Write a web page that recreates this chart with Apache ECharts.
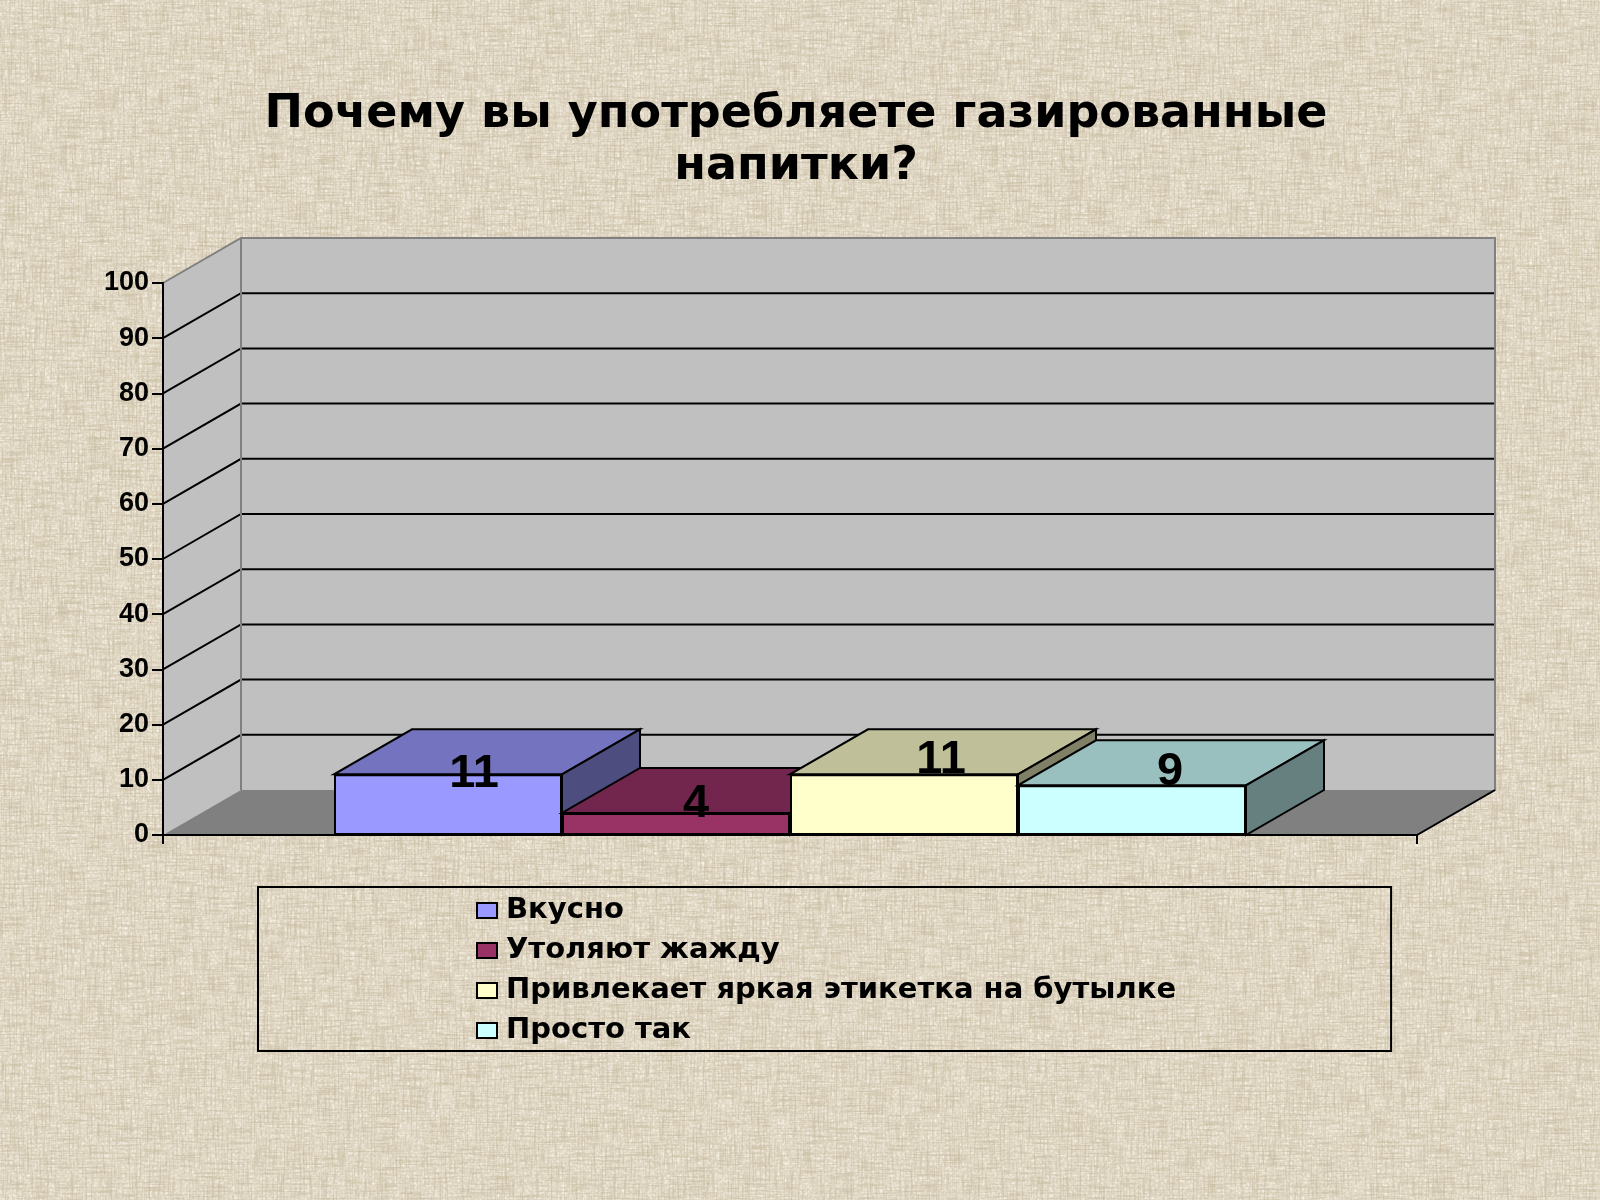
<!DOCTYPE html>
<html><head><meta charset="utf-8">
<script src="https://cdn.jsdelivr.net/npm/echarts@6/dist/echarts.min.js"></script>
<style>
html,body{margin:0;padding:0;width:1600px;height:1200px;overflow:hidden;background:#dcd4c1}
#tex{position:absolute;left:0;top:0;width:1600px;height:1200px}
#c{position:absolute;left:0;top:0;width:1600px;height:1200px}
</style></head><body>
<svg id="tex" xmlns="http://www.w3.org/2000/svg" width="1600" height="1200">
<defs>
<filter id="h" x="0" y="0" width="100%" height="100%"><feTurbulence type="fractalNoise" baseFrequency="0.035 0.55" numOctaves="2" seed="4"/><feColorMatrix values="0 0 0 0 .54 0 0 0 0 .46 0 0 0 0 .32 2.8 0 0 0 -1.2"/></filter>
<filter id="v" x="0" y="0" width="100%" height="100%"><feTurbulence type="fractalNoise" baseFrequency="0.55 0.035" numOctaves="2" seed="9"/><feColorMatrix values="0 0 0 0 .54 0 0 0 0 .46 0 0 0 0 .32 2.8 0 0 0 -1.2"/></filter>
<filter id="w" x="0" y="0" width="100%" height="100%"><feTurbulence type="fractalNoise" baseFrequency="0.4 0.4" numOctaves="1" seed="14"/><feColorMatrix values="0 0 0 0 .97 0 0 0 0 .95 0 0 0 0 .88 2.4 0 0 0 -1.05"/></filter>
</defs>
<rect width="1600" height="1200" fill="#e2d9c6"/>
<rect width="1600" height="1200" filter="url(#w)"/>
<rect width="1600" height="1200" filter="url(#h)" opacity=".52"/>
<rect width="1600" height="1200" filter="url(#v)" opacity=".52"/>
</svg>
<div id="c"></div>
<script>
// data
const titleLines = ['Почему вы употребляете газированные', 'напитки?'];
const categories = [''];
const seriesNames = ['Вкусно', 'Утоляют жажду', 'Привлекает яркая этикетка на бутылке', 'Просто так'];
const seriesValues = [11, 4, 11, 9];
const axisTicks = [0, 10, 20, 30, 40, 50, 60, 70, 80, 90, 100];

// style
const seriesColors = ['#9999FF', '#993366', '#FFFFCC', '#CCFFFF'];
const topColors = ['#7373BF', '#73264D', '#BFBF99', '#99BFBF'];
const sideColors = ['#4D4D80', '#4D1A33', '#808066', '#668080'];
const labelOffsets = [[26, 23], [20, 15], [37, 9], [38, 10]];
const DX = 78, DY = -45;            // depth of the oblique projection, px
const GAP_BARS = 1.5;               // category gap, in bar widths

const chart = echarts.init(document.getElementById('c'));

function wallsItem(params, api) {
  if (params.dataIndex !== 0) return;
  const b = api.coord([0, 0]), t = api.coord([0, 100]);
  const w = api.size([1, 0])[0];
  const L = b[0] - w / 2, R = b[0] + w / 2, B = b[1], T = t[1];
  const ch = [];
  const black = { stroke: '#000', lineWidth: 2 };
  const edge = { stroke: '#808080', lineWidth: 2 };
  ch.push({ type: 'polygon', shape: { points: [[L, B], [L + DX, B + DY], [L + DX, T + DY], [L, T]] }, style: { fill: '#C0C0C0' } });
  ch.push({ type: 'rect', shape: { x: L + DX, y: T + DY, width: R - L, height: B - T }, style: { fill: '#C0C0C0' } });
  ch.push({ type: 'polygon', shape: { points: [[L, B], [R, B], [R + DX, B + DY], [L + DX, B + DY]] }, style: { fill: '#808080' } });
  axisTicks.filter(v => v > 0 && v < 100).forEach(v => {
    const y = api.coord([0, v])[1];
    ch.push({ type: 'polyline', shape: { points: [[L, y], [L + DX, y + DY], [R + DX, y + DY]] }, style: Object.assign({ fill: null }, black) });
  });
  ch.push({ type: 'polyline', shape: { points: [[L, T], [L + DX, T + DY], [R + DX, T + DY], [R + DX, B + DY], [R, B]] }, style: Object.assign({ fill: null }, edge) });
  ch.push({ type: 'line', shape: { x1: L + DX, y1: T + DY, x2: L + DX, y2: B + DY }, style: edge });
  ch.push({ type: 'line', shape: { x1: R, y1: B, x2: R + DX, y2: B + DY }, style: black });
  return { type: 'group', children: ch };
}

function blockItem(i) {
  return function (params, api) {
    const c = api.coord([0, seriesValues[i]]), b = api.coord([0, 0]);
    const w = api.size([1, 0])[0];
    const bw = w / (seriesValues.length + GAP_BARS);
    const x0 = c[0] - bw * seriesValues.length / 2 + bw * i, x1 = x0 + bw;
    const st = { stroke: '#000', lineWidth: 2, lineJoin: 'miter' };
    return { type: 'group', children: [
      { type: 'polygon', shape: { points: [[x0, c[1]], [x1, c[1]], [x1 + DX, c[1] + DY], [x0 + DX, c[1] + DY]] }, style: Object.assign({ fill: topColors[i] }, st) },
      { type: 'polygon', shape: { points: [[x1, c[1]], [x1 + DX, c[1] + DY], [x1 + DX, b[1] + DY], [x1, b[1]]] }, style: Object.assign({ fill: sideColors[i] }, st) }
    ]};
  };
}

const series = [{
  type: 'custom', z: 1, silent: true, clip: false, renderItem: wallsItem, data: [[0, 0]], encode: { x: 0, y: 1 }
}];
seriesNames.forEach((name, i) => {
  series.push({
    type: 'custom', z: 2 + i * 2, silent: true, clip: false, renderItem: blockItem(i),
    data: [[0, seriesValues[i]]], encode: { x: 0, y: 1 }
  });
  series.push({
    type: 'bar', name, z: 3 + i * 2, data: [seriesValues[i]],
    barGap: 0, barCategoryGap: (GAP_BARS / (seriesValues.length + GAP_BARS) * 100) + '%',
    itemStyle: { color: seriesColors[i], borderColor: '#000', borderWidth: 2 },
    label: { show: true, position: 'top', distance: 0, offset: labelOffsets[i], color: '#000',
      fontFamily: 'Liberation Sans', fontWeight: 'bold', fontSize: 47 }
  });
});

chart.setOption({
  animation: false,
  title: { text: titleLines.join('\n'), left: 791, top: 84, textAlign: 'center',
    textStyle: { color: '#000', fontFamily: 'DejaVu Sans', fontWeight: 'bold', fontSize: 46, lineHeight: 52 } },
  grid: { left: 163, right: 183, top: 283, bottom: 365 },
  xAxis: { type: 'category', data: categories, z: 30,
    axisLine: { show: true, onZero: false, lineStyle: { color: '#000', width: 2 } },
    axisTick: { show: true, length: 9, alignWithLabel: false, lineStyle: { color: '#000', width: 2 } },
    axisLabel: { show: false }, splitLine: { show: false } },
  yAxis: { type: 'value', min: 0, max: 100, interval: 10, z: 30,
    axisLine: { show: true, lineStyle: { color: '#000', width: 2 } },
    axisTick: { show: true, length: 11, lineStyle: { color: '#000', width: 2 } },
    axisLabel: { color: '#000', fontFamily: 'Liberation Sans', fontWeight: 'bold', fontSize: 27, margin: 14 },
    splitLine: { show: false } },
  legend: {
    data: seriesNames, orient: 'vertical', left: 258, top: 887, align: 'left',
    padding: [9, 215, 6, 218], itemWidth: 20, itemHeight: 15, itemGap: 11,
    borderColor: '#000', borderWidth: 2, selectedMode: false, icon: 'rect',
    textStyle: { color: '#000', fontFamily: 'DejaVu Sans', fontWeight: 'bold', fontSize: 29, padding: [0, 0, 0, 4] }
  },
  series
});
</script>
</body></html>
